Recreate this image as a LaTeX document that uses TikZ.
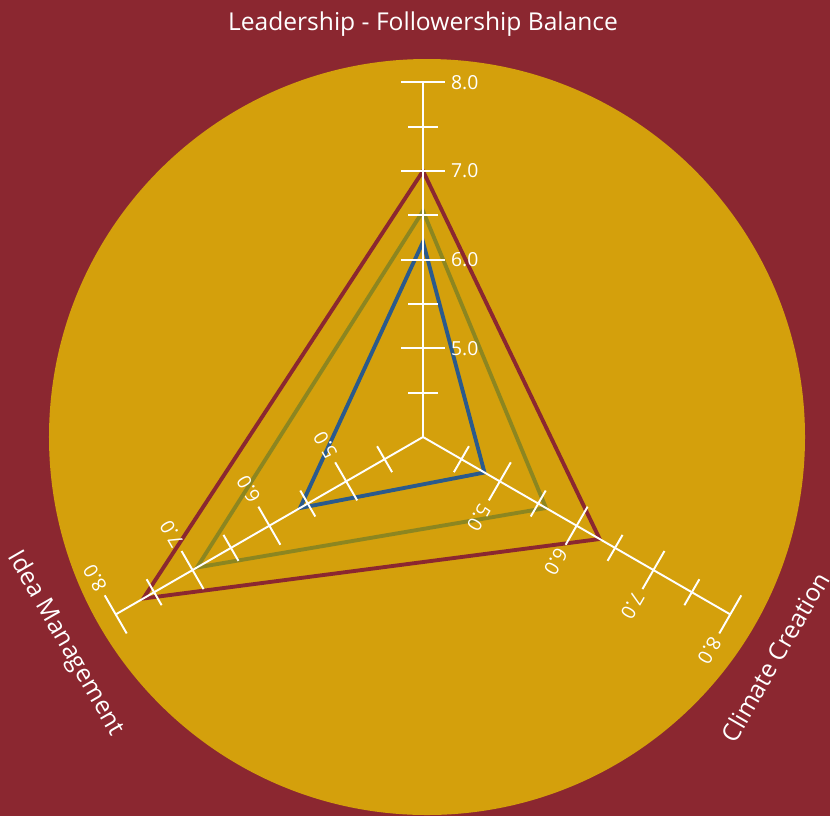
\documentclass[tikz,border=0pt]{standalone}
\usepackage{fontspec}
\setmainfont{Open Sans}
\usepackage{xcolor}
\usetikzlibrary{positioning}
\definecolor{wine}{HTML}{8B2730}
\definecolor{gold}{HTML}{D4A00C}
\definecolor{olive}{HTML}{8C8620}
\definecolor{steel}{HTML}{2A5A8C}

\begin{document}
\begin{tikzpicture}[x=0.02cm,y=0.02cm,
    axisline/.style={white,line width=1.1pt},
    ticklabel/.style={white,font=\fontsize{11}{11}\selectfont,anchor=west,inner sep=1pt,transform shape},
    axistitle/.style={white,font=\fontsize{14}{14}\selectfont},
    series/.style={line width=2.2pt,line join=miter}]
        % background and disc
        \fill[wine] (-423,-379) rectangle (407,437);
        \useasboundingbox (-423,-379) rectangle (407,437);
        \fill[gold] (4,0) circle (378);
        % data (value v sits at (v-4)*88.7)
        \draw[series,wine] (90:266) -- (-30:204) -- (210:323) -- cycle;
        \draw[series,olive] (90:226) -- (-30:142) -- (210:261) -- cycle;
        \draw[series,steel] (90:195) -- (-30:71) -- (210:142) -- cycle;
        % axes with ticks
        \foreach \ang in {0,-120,120}{
            \begin{scope}[rotate=\ang]
                \draw[axisline] (0,0) -- (0,355);
                \foreach \v in {4.5,5.5,6.5,7.5}
                    \draw[axisline] (-15,{(\v-4)*88.7}) -- (15,{(\v-4)*88.7});
                \foreach \v in {5.0,6.0,7.0,8.0}{
                    \draw[axisline] (-22,{(\v-4)*88.7}) -- (22,{(\v-4)*88.7});
                    \node[ticklabel] at (26,{(\v-4)*88.7}) {\v};
                }
            \end{scope}
        }
        % axis titles
        \node[axistitle] (lead) at (90:413) {Leadership - Followership Balance};
        \node[axistitle,rotate=-60] (idea) at (210:413) {Idea Management};
        \node[axistitle,rotate=60] (climate) at (-32:415) {Climate Creation};
\end{tikzpicture}
\end{document}
